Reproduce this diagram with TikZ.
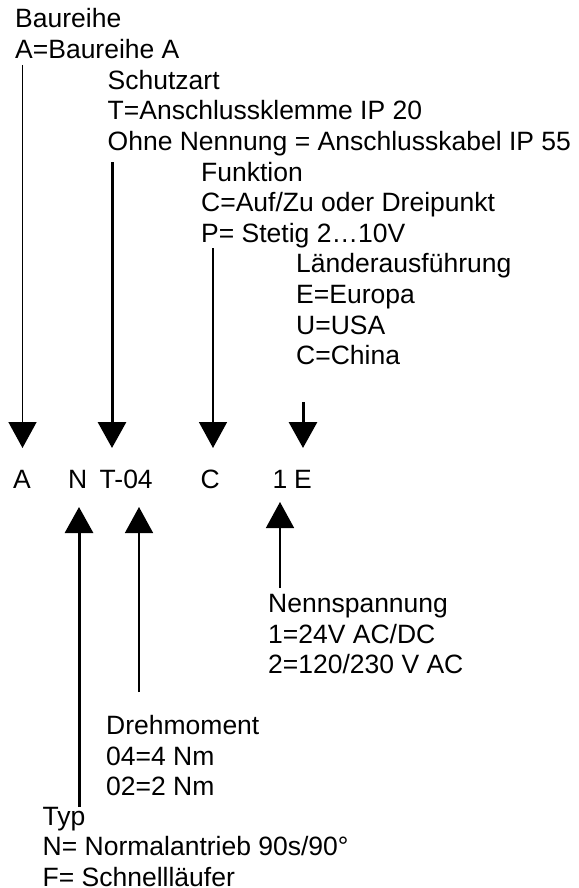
\documentclass[tikz,border=0pt]{standalone}
\usepackage{fontspec}
\setmainfont{Liberation Sans}
\usetikzlibrary{arrows.meta}
\begin{document}
\begin{tikzpicture}[x=1pt,y=-1pt,
  lbl/.style={anchor=base west, inner sep=0pt, font=\fontsize{26.5pt}{30.6pt}\selectfont},
  thinarr/.style={line width=1.5pt, -{Triangle[width=28pt,length=26pt]}},
  thickarr/.style={line width=3pt, -{Triangle[width=28pt,length=26pt]}}]
\useasboundingbox (0,0) rectangle (578,888);

% text blocks
\node[lbl] (baureihe) at (15,28) {\begin{tabular}[t]{@{}l@{}}Baureihe\\A=Baureihe A\end{tabular}};
\node[lbl] (schutzart) at (107.5,89.2) {\begin{tabular}[t]{@{}l@{}}Schutzart\\T=Anschlussklemme IP 20\\Ohne Nennung = Anschlusskabel IP 55\end{tabular}};
\node[lbl] (funktion) at (201,181) {\begin{tabular}[t]{@{}l@{}}Funktion\\C=Auf/Zu oder Dreipunkt\\P= Stetig 2…10V\end{tabular}};
\node[lbl] (laender) at (296,272.8) {\begin{tabular}[t]{@{}l@{}}Länderausführung\\E=Europa\\U=USA\\C=China\end{tabular}};

% code row
\node[lbl] (cA) at (13,488) {A};
\node[lbl] (cN) at (68,488) {N};
\node[lbl] (cT) at (99.5,488) {T-04};
\node[lbl] (cC) at (200.5,488) {C};
\node[lbl] (c1) at (272.5,488) {1};
\node[lbl] (cE) at (294,488) {E};

% lower blocks
\node[lbl] (nenn) at (268,612.5) {\begin{tabular}[t]{@{}l@{}}Nennspannung\\1=24V AC/DC\\2=120/230 V AC\end{tabular}};
\node[lbl] (dreh) at (106,734.5) {\begin{tabular}[t]{@{}l@{}}Drehmoment\\04=4 Nm\\02=2 Nm\end{tabular}};
\node[lbl] (typ) at (42.5,825) {\begin{tabular}[t]{@{}l@{}}Typ\\N= Normalantrieb 90s/90°\\F= Schnellläufer\end{tabular}};

% arrow end points
\coordinate (sA) at (22.5,65);   \coordinate (tA) at (22.5,448);
\coordinate (sT) at (112,162);   \coordinate (tT) at (112,448);
\coordinate (sC) at (213,248);   \coordinate (tC) at (213,448);
\coordinate (sE) at (303,402);   \coordinate (tE) at (303,448);
\coordinate (sN) at (79,807);    \coordinate (tN) at (79,507);
\coordinate (s04) at (139,692);  \coordinate (t04) at (139,507);
\coordinate (s1) at (280,588);   \coordinate (t1) at (280,502);

\draw[thinarr] (sA) -- (tA);
\draw[thickarr] (sT) -- (tT);
\draw[thinarr] (sC) -- (tC);
\draw[thickarr] (sE) -- (tE);
\draw[thickarr] (sN) -- (tN);
\draw[thinarr] (s04) -- (t04);
\draw[thinarr] (s1) -- (t1);
\end{tikzpicture}
\end{document}
